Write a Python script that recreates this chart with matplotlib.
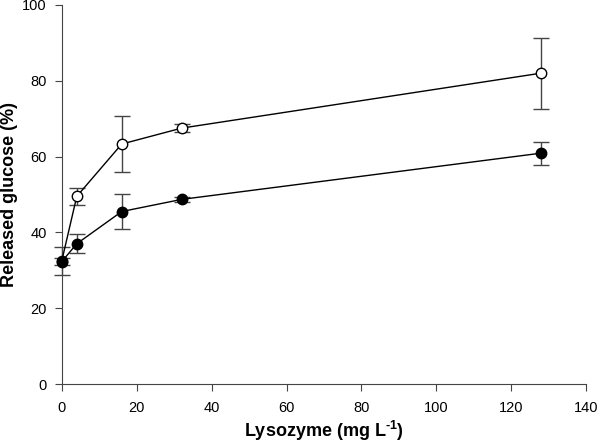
import matplotlib
matplotlib.use('Agg')
from matplotlib import pyplot as plt

plt.rcParams['font.family'] = ['Liberation Sans', 'DejaVu Sans']
plt.rcParams['mathtext.fontset'] = 'custom'
plt.rcParams['mathtext.rm'] = 'Liberation Sans:bold'
plt.rcParams['mathtext.bf'] = 'Liberation Sans:bold'

lysozyme = [0, 4, 16, 32, 128]
open_vals = [32.5, 49.5, 63.3, 67.5, 82.0]
open_err = [3.7, 2.3, 7.3, 1.0, 9.4]
filled_vals = [32.3, 37.0, 45.5, 48.7, 60.9]
filled_err = [1.0, 2.5, 4.5, 0.7, 3.0]

fig = plt.figure(figsize=(6, 4.45), dpi=100)
ax = fig.add_axes([0.103, 0.137, 0.874, 0.852])

ax.errorbar(lysozyme, open_vals, yerr=open_err, color='black', lw=1,
            marker='o', ms=7.5, mfc='white', mec='black', mew=1,
            ecolor='#444444', elinewidth=1, capsize=6, capthick=1, zorder=3)
ax.errorbar(lysozyme, filled_vals, yerr=filled_err, color='black', lw=1,
            marker='o', ms=7.5, mfc='black', mec='black',
            ecolor='#444444', elinewidth=1, capsize=6, capthick=1, zorder=3)

#Format plot
ax.set_xlim(0, 140)
ax.set_ylim(0, 100)
ax.set_xticks(range(0, 141, 20))
ax.set_yticks(range(0, 101, 20))
ax.spines['top'].set_visible(False)
ax.spines['right'].set_visible(False)
for s in ['left', 'bottom']:
    ax.spines[s].set_color('#444444')
ax.tick_params(direction='out', length=5, color='#444444', labelsize=10.5)
ax.tick_params(axis='x', pad=7)
ax.tick_params(axis='y', pad=6)
ax.set_xlabel('Lysozyme (mg L$^{\\text{-1}}$)', fontsize=13, fontweight='bold', labelpad=3)
ax.set_ylabel('Released glucose (%)', fontsize=13, fontweight='bold', labelpad=3)
for art in ax.lines + ax.collections:
    art.set_clip_on(False)

fig.savefig('out.png', dpi=100)
